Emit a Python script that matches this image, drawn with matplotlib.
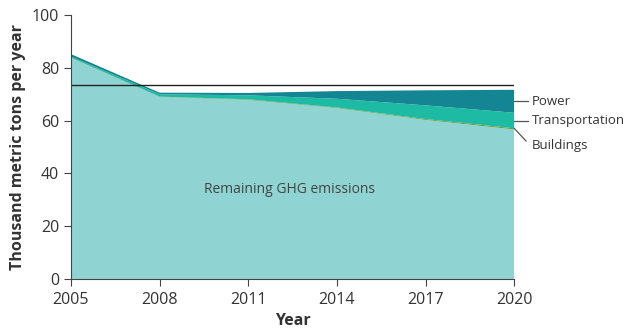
import matplotlib.pyplot as plt

# Data
years = [2005, 2008, 2011, 2014, 2017, 2020]
remaining = [83.8, 69.0, 67.9, 64.8, 60.3, 56.7]
buildings = [0.1, 0.1, 0.2, 0.2, 0.3, 0.4]
transportation = [0.4, 0.9, 1.5, 3.3, 5.2, 5.9]
power = [0.9, 0.6, 0.9, 2.9, 5.7, 8.7]
target = 73.6
series_names = ['Power', 'Transportation', 'Buildings']

plt.rcParams['font.family'] = ['Open Sans', 'DejaVu Sans']

fig = plt.figure(figsize=(6.26, 3.35), dpi=100)
ax = fig.add_axes([0.1134, 0.167, 0.708, 0.788])

colors = ['#8fd4d3', '#6b9a2e', '#1dbba4', '#138593']
ax.stackplot(years, remaining, buildings, transportation, power,
             colors=colors, linewidth=0)
ax.axhline(target, color='#222222', lw=1)

ax.set_xlim(2005, 2020)
ax.set_ylim(0, 100)
ax.set_xticks(years)
ax.set_yticks(range(0, 101, 20))
for s in ['top', 'right']:
    ax.spines[s].set_visible(False)
for s in ['left', 'bottom']:
    ax.spines[s].set_color('#444444')
ax.tick_params(colors='#444444', labelcolor='#333333', labelsize=11.5, length=5)
ax.tick_params(axis='x', pad=4)
ax.set_ylabel('Thousand metric tons per year', fontsize=11.5, fontweight='bold', color='#333333')
ax.set_xlabel('Year', fontsize=11.5, fontweight='bold', color='#333333', labelpad=4)

ax.text(2012.4, 34, 'Remaining GHG emissions', fontsize=10, color='#444444',
        ha='center', va='center')

# right-side labels with leader lines
top_r = remaining[-1] + buildings[-1] + transportation[-1]
mid_power = top_r + power[-1] / 2
mid_trans = remaining[-1] + buildings[-1] + transportation[-1] / 2
b_y = remaining[-1] + buildings[-1]
label_color = '#333333'
ax.plot([2020, 2020.47], [mid_power, mid_power], color='#555555', lw=0.9, clip_on=False)
ax.text(2020.6, mid_power, series_names[0], fontsize=9.5, color=label_color, va='center')
ax.plot([2020, 2020.47], [mid_trans, mid_trans], color='#555555', lw=0.9, clip_on=False)
ax.text(2020.6, mid_trans, series_names[1], fontsize=9.5, color=label_color, va='center')
ax.plot([2020, 2020.4], [b_y, b_y - 4.8], color='#555555', lw=0.9, clip_on=False)
ax.text(2020.6, b_y - 6.5, series_names[2], fontsize=9.5, color=label_color, va='center')

plt.savefig('out.png', dpi=100)
